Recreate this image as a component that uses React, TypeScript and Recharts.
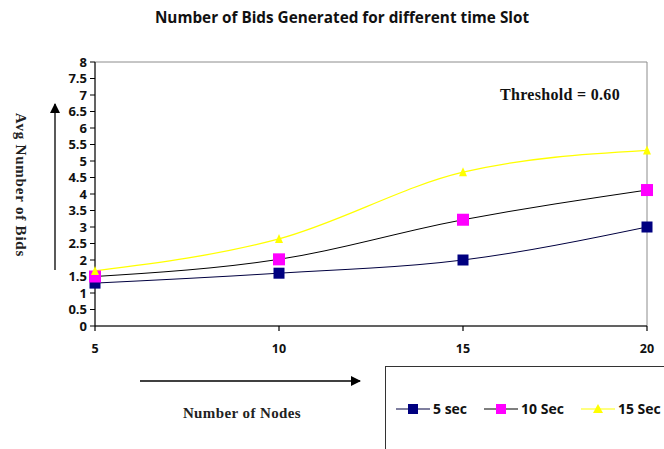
import React from 'react';
import { LineChart, Line, XAxis, YAxis, ReferenceArea } from 'recharts';

const nodes = [5, 10, 15, 20];
const sec5 = [1.3, 1.6, 2.0, 3.0];
const sec10 = [1.5, 2.02, 3.22, 4.12];
const sec15 = [1.67, 2.64, 4.66, 5.32];
const yTicks = [0, 0.5, 1, 1.5, 2, 2.5, 3, 3.5, 4, 4.5, 5, 5.5, 6, 6.5, 7, 7.5, 8];
const xTicks = [5, 10, 15, 20];
const seriesNames = ['5 sec', '10 Sec', '15 Sec'];

const data = nodes.map((n, i) => ({ n, s5: sec5[i], s10: sec10[i], s15: sec15[i] }));

const labelFont = '"Liberation Serif", "Times New Roman", serif';
const tickFont = '"Open Sans", "Liberation Sans", sans-serif';

const SquareDot = (size: number, color: string) => (props: any) => {
  const { cx, cy, index } = props;
  if (cx == null || cy == null) return <g key={index} />;
  return <rect key={index} x={cx - size / 2} y={cy - size / 2} width={size} height={size} fill={color} />;
};

const TriDot = (size: number, color: string) => (props: any) => {
  const { cx, cy, index } = props;
  if (cx == null || cy == null) return <g key={index} />;
  const h = size;
  return (
    <polygon
      key={index}
      points={`${cx},${cy - h / 2 - 1} ${cx - h / 2},${cy + h / 2} ${cx + h / 2},${cy + h / 2}`}
      fill={color}
    />
  );
};

const legendItems = [
  { key: 's5', name: seriesNames[0], line: '#000040', marker: '#000080', shape: 'square' },
  { key: 's10', name: seriesNames[1], line: '#000000', marker: '#ff00ff', shape: 'square' },
  { key: 's15', name: seriesNames[2], line: '#ffff00', marker: '#ffff00', shape: 'tri' },
];

const LegendBox = () => (
  <div
    style={{
      position: 'absolute',
      left: 385,
      top: 366,
      width: 300,
      height: 100,
      border: '1.5px solid #333',
      boxSizing: 'border-box',
      background: '#fff',
      display: 'flex',
      alignItems: 'center',
      paddingLeft: 10,
      paddingBottom: 15,
    }}
  >
    {legendItems.map((it) => (
      <div key={it.key} style={{ display: 'flex', alignItems: 'center', marginRight: 17 }}>
        <svg width={34} height={14} style={{ display: 'block' }}>
          <line x1={0} y1={7} x2={34} y2={7} stroke={it.line} strokeWidth={1.2} />
          {it.shape === 'square' ? (
            <rect x={12} y={2} width={10} height={10} fill={it.marker} />
          ) : (
            <polygon points="17,2 12,11 22,11" fill={it.marker} />
          )}
        </svg>
        <span
          style={{
            fontFamily: tickFont,
            fontWeight: 700,
            fontSize: 14,
            color: '#111',
            marginLeft: 3,
            whiteSpace: 'nowrap',
          }}
        >
          {it.name}
        </span>
      </div>
    ))}
  </div>
);

export default function App() {
  return (
    <div style={{ position: 'absolute', left: 0, top: 0, width: 664, height: 449, background: '#fff', overflow: 'hidden' }}>
      <LineChart
        width={664}
        height={449}
        data={data}
        margin={{ top: 62, right: 17, bottom: 93, left: 0 }}
      >
        <ReferenceArea x1={5} x2={20} y1={0} y2={8} fill="none" stroke="#8c8c8c" strokeWidth={1} ifOverflow="visible" />
        <XAxis
          dataKey="n"
          type="number"
          domain={[5, 20]}
          ticks={xTicks}
          height={30}
          tickSize={5}
          tickMargin={13}
          stroke="#000"
          strokeWidth={1.2}
          tick={{ fill: '#111', fontFamily: tickFont, fontWeight: 700, fontSize: 12.5 }}
        />
        <YAxis
          type="number"
          domain={[0, 8]}
          ticks={yTicks}
          width={95}
          tickSize={5}
          tickMargin={3}
          interval={0}
          stroke="#000"
          strokeWidth={1}
          tick={{ fill: '#111', fontFamily: tickFont, fontWeight: 700, fontSize: 13 }}
        />
        <Line
          type="monotone"
          dataKey="s5"
          name={seriesNames[0]}
          stroke="#000040"
          strokeWidth={1}
          dot={SquareDot(11, '#000080')}
          isAnimationActive={false}
        />
        <Line
          type="monotone"
          dataKey="s10"
          name={seriesNames[1]}
          stroke="#000000"
          strokeWidth={1}
          dot={SquareDot(12, '#ff00ff')}
          isAnimationActive={false}
        />
        <Line
          type="monotone"
          dataKey="s15"
          name={seriesNames[2]}
          stroke="#ffff00"
          strokeWidth={1.3}
          dot={TriDot(8, '#ffff00')}
          isAnimationActive={false}
        />
      </LineChart>
      <LegendBox />
      <svg
        width={664}
        height={449}
        style={{ position: 'absolute', left: 0, top: 0, pointerEvents: 'none' }}
      >
        <defs>
          <marker id="ah" markerWidth="10" markerHeight="10" refX="9" refY="5" orient="auto" markerUnits="userSpaceOnUse">
            <path d="M0,0 L10,5 L0,10 z" fill="#000" />
          </marker>
        </defs>
        <text x={342} y={23} textAnchor="middle" fontFamily={tickFont} fontWeight={700} fontSize={15.3} fill="#111">
          Number of Bids Generated for different time Slot
        </text>
        <text
          x={0}
          y={0}
          transform="translate(21,185) rotate(90)"
          textAnchor="middle"
          fontFamily={labelFont}
          fontWeight={700}
          fontSize={15}
          letterSpacing={0.8}
          fill="#222"
          dominantBaseline="central"
        >
          Avg Number  of Bids
        </text>
        <line x1={55} y1={270} x2={55} y2={104} stroke="#000" strokeWidth={1.3} markerEnd="url(#ah)" />
        <line x1={140} y1={381} x2={360} y2={381} stroke="#000" strokeWidth={1.3} markerEnd="url(#ah)" />
        <text x={242} y={418} textAnchor="middle" fontFamily={labelFont} fontWeight={700} fontSize={15} letterSpacing={0.4} fill="#222">
          Number  of Nodes
        </text>
        <text x={560} y={100} textAnchor="middle" fontFamily={labelFont} fontWeight={700} fontSize={16} letterSpacing={0.3} fill="#111">
          Threshold = 0.60
        </text>
      </svg>
    </div>
  );
}
